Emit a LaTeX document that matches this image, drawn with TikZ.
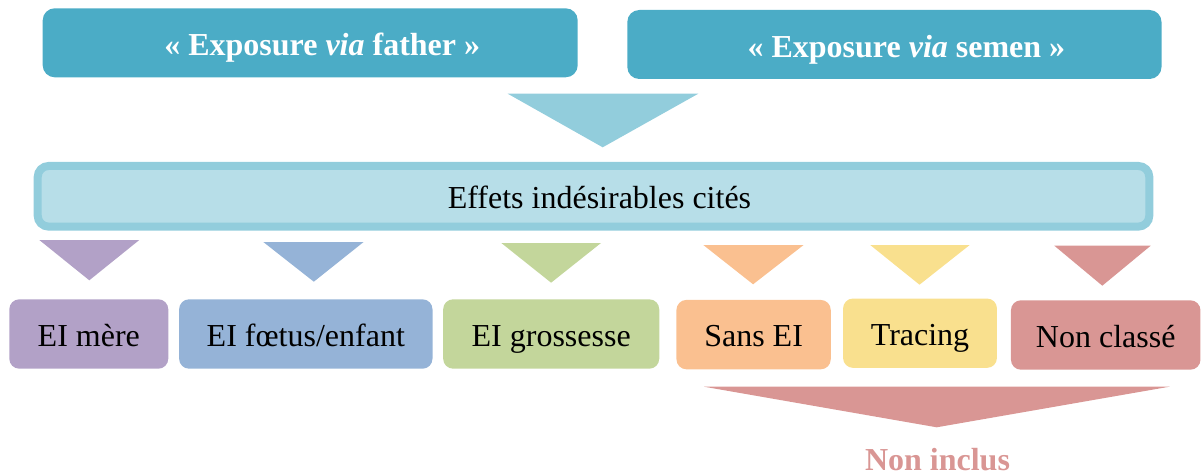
\documentclass[tikz,border=0pt]{standalone}
\usepackage{fontspec}
\setmainfont{Liberation Serif}
\definecolor{topc}{HTML}{4BACC6}
\definecolor{bigtri}{HTML}{92CDDC}
\definecolor{barborder}{HTML}{92CDDC}
\definecolor{barfill}{HTML}{B7DEE8}
\definecolor{purplec}{HTML}{B2A1C7}
\definecolor{bluec}{HTML}{95B3D7}
\definecolor{greenc}{HTML}{C3D69B}
\definecolor{orangec}{HTML}{FAC090}
\definecolor{yellowc}{HTML}{F9E08E}
\definecolor{redc}{HTML}{D99694}
\begin{document}
\begin{tikzpicture}[x=1pt,y=-1pt,
  bigfont/.style={font=\fontsize{32}{38}\selectfont},
  topbox/.style={font=\fontsize{32}{38}\selectfont\bfseries, fill=topc, text=white, rounded corners=12pt, inner sep=0pt, minimum height=69pt, text height=28pt, text depth=2pt},
  barbox/.style={bigfont, fill=barfill, draw=barborder, line width=8pt, rounded corners=11pt, inner sep=0pt, minimum width=1111.6pt, minimum height=60.7pt, text height=27pt, text depth=3pt, text=black},
  catbox/.style={bigfont, rounded corners=10pt, inner sep=0pt, minimum height=69.4pt, text height=27pt, text depth=3pt, text=black}
]
\useasboundingbox (0,0) rectangle (1201,476);

% top boxes
\node[topbox, minimum width=535pt] (father) at (310.2,42.8) {\hspace*{24pt}«~Exposure {\itshape via} father~»};
\node[topbox, minimum width=534.2pt] (semen) at (894.4,44.5) {\hspace*{24pt}«~Exposure {\itshape via} semen~»};

% big triangle
\fill[bigtri] (507.7,93.7) -- (698.3,93.7) -- (602.7,147.3) -- cycle;

% bar
\node[barbox] (effets) at (593.5,196.3) {\hspace*{12pt}Effets indésirables cités};

% small triangles
\fill[purplec] (39.3,240) -- (139.3,240) -- (89.3,280.3) -- cycle;
\fill[bluec] (263.3,242) -- (363.6,242) -- (313.8,281.7) -- cycle;
\fill[greenc] (501.3,243) -- (601,243) -- (551.1,282.7) -- cycle;
\fill[orangec] (703.3,245) -- (803.6,245) -- (753.1,284.3) -- cycle;
\fill[yellowc] (870.2,245) -- (969.7,245) -- (919.5,284.7) -- cycle;
\fill[redc] (1054.3,245.7) -- (1150.7,245.7) -- (1102.3,285.7) -- cycle;

% category boxes
\node[catbox, fill=purplec, minimum width=159pt] (mere) at (88.8,334) {EI mère};
\node[catbox, fill=bluec, minimum width=253.4pt] (foetus) at (305.8,334) {EI fœtus/enfant};
\node[catbox, fill=greenc, minimum width=216.1pt] (grossesse) at (551.2,334) {EI grossesse};
\node[catbox, fill=orangec, minimum width=154.3pt] (sansei) at (753.6,334.6) {Sans EI};
\node[catbox, fill=yellowc, minimum width=153.9pt] (tracing) at (920,333.2) {Tracing};
\node[catbox, fill=redc, minimum width=189.5pt] (nonclasse) at (1105.7,335) {Non classé};

% big red triangle
\fill[redc] (704,386.7) -- (1169.5,386.7) -- (936.7,427.3) -- cycle;

\node[font=\fontsize{32}{38}\selectfont\bfseries, text=redc, anchor=base, inner sep=0pt] (noninclus) at (937.5,470.7) {Non inclus};
\end{tikzpicture}
\end{document}
